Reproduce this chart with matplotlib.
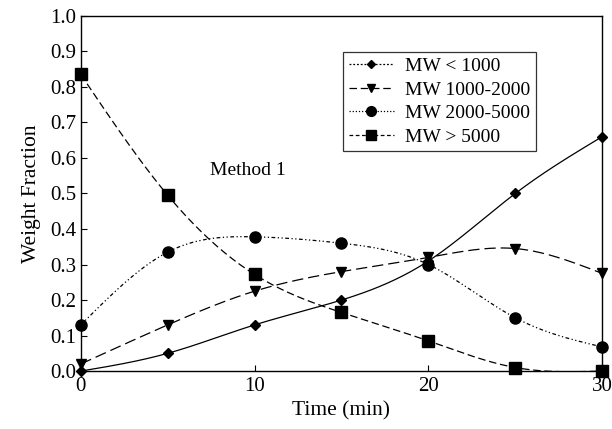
import numpy as np
import matplotlib
matplotlib.use('Agg')
import matplotlib.pyplot as plt
from matplotlib.lines import Line2D

time_min = [0, 5, 10, 15, 20, 25, 30]
mw_lt_1000 = [0.0, 0.05, 0.13, 0.20, 0.31, 0.50, 0.66]
mw_1000_2000 = [0.02, 0.13, 0.225, 0.28, 0.32, 0.345, 0.275]
mw_2000_5000 = [0.13, 0.335, 0.378, 0.36, 0.30, 0.15, 0.068]
mw_gt_5000 = [0.835, 0.495, 0.272, 0.165, 0.085, 0.01, 0.0]

labels = ['MW < 1000', 'MW 1000-2000', 'MW 2000-5000', 'MW > 5000']
markers = ['D', 'v', 'o', 's']
marker_sizes = [5, 7, 8, 8]
plot_styles = ['-', (0, (9, 4)), (0, (3, 2, 1, 2, 1, 2)), (0, (6, 3))]
legend_styles = [(0, (1.5, 1.5)), (0, (6, 3)), (0, (1, 1.5)), (0, (3, 2))]


def natural_spline(x, y, n=200):
    """Curva suave que passa pelos pontos (spline cúbica natural)."""
    x = np.asarray(x, float)
    y = np.asarray(y, float)
    h = np.diff(x)
    k = len(x)
    A = np.zeros((k, k))
    b = np.zeros(k)
    A[0, 0] = A[-1, -1] = 1
    for i in range(1, k - 1):
        A[i, i - 1] = h[i - 1]
        A[i, i] = 2 * (h[i - 1] + h[i])
        A[i, i + 1] = h[i]
        b[i] = 6 * ((y[i + 1] - y[i]) / h[i] - (y[i] - y[i - 1]) / h[i - 1])
    m = np.linalg.solve(A, b)
    xs = np.linspace(x[0], x[-1], n)
    idx = np.clip(np.searchsorted(x, xs) - 1, 0, k - 2)
    t0 = x[idx + 1] - xs
    t1 = xs - x[idx]
    hi = h[idx]
    ys = (m[idx] * t0 ** 3 + m[idx + 1] * t1 ** 3) / (6 * hi) \
        + (y[idx] / hi - m[idx] * hi / 6) * t0 \
        + (y[idx + 1] / hi - m[idx + 1] * hi / 6) * t1
    return xs, ys


plt.rcParams['font.family'] = ['Liberation Serif', 'DejaVu Serif']

fig = plt.figure(figsize=(6.12, 4.29), dpi=100)
ax = fig.add_axes([0.132, 0.135, 0.852, 0.828])

series = [mw_lt_1000, mw_1000_2000, mw_2000_5000, mw_gt_5000]
handles = []
for vals, lab, mk, ms, ps, ls in zip(series, labels, markers, marker_sizes,
                                      plot_styles, legend_styles):
    xs, ys = natural_spline(time_min, vals)
    ax.plot(xs, ys, color='black', linestyle=ps, linewidth=0.9)
    ax.plot(time_min, vals, linestyle='none', marker=mk, markersize=ms,
            color='black', clip_on=False, zorder=5)
    handles.append(Line2D([], [], color='black', linestyle=ls, linewidth=0.9,
                          marker=mk, markersize=ms - 1, label=lab))

ax.set_xlim(0, 30)
ax.set_ylim(0, 1.0)
ax.set_xticks([0, 10, 20, 30])
ax.set_yticks(np.arange(0, 1.01, 0.1))
ax.yaxis.set_major_formatter(matplotlib.ticker.FormatStrFormatter('%.1f'))
ax.tick_params(direction='in', length=4, labelsize=15, width=0.8)
ax.tick_params(axis='x', pad=4)
ax.tick_params(axis='y', pad=3)
for sp in ax.spines.values():
    sp.set_linewidth(1.0)

ax.set_xlabel('Time (min)', fontsize=15.5, labelpad=4)
ax.set_ylabel('Weight Fraction', fontsize=15.5, labelpad=7)

ax.text(9.6, 0.566, 'Method 1', fontsize=14, ha='center', va='center')

leg = ax.legend(handles=handles, loc='upper left',
                bbox_to_anchor=(0.503, 0.899), borderaxespad=0,
                fontsize=14, frameon=True, fancybox=False, edgecolor='black',
                handlelength=2.3, handletextpad=0.6, borderpad=0.3,
                labelspacing=0.3)
leg.get_frame().set_linewidth(0.9)

fig.savefig('out.png', dpi=100)
